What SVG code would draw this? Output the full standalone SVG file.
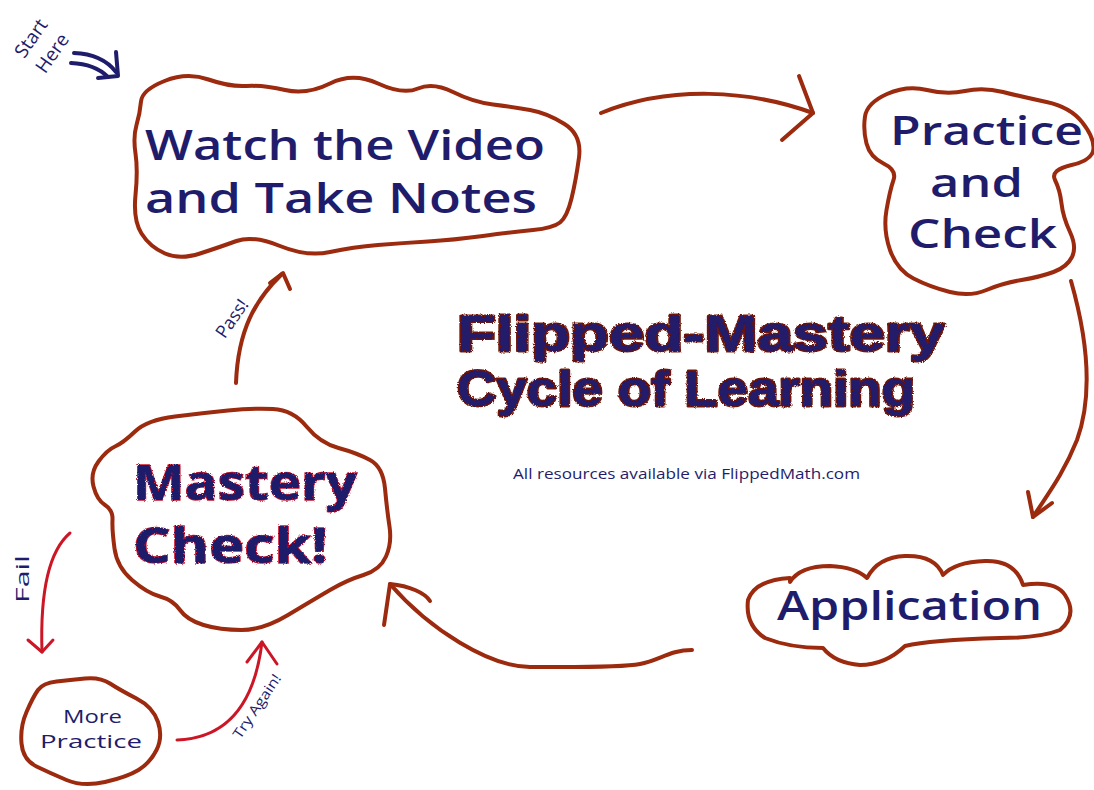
<svg xmlns="http://www.w3.org/2000/svg" width="1094" height="790" viewBox="0 0 1094 790">
<style>
.cloud{fill:#fff;stroke:#9b2a0e;stroke-width:4;stroke-linejoin:round}
.conn{fill:none;stroke:#9b2a0e;stroke-width:4;stroke-linecap:round;stroke-linejoin:round}
.red{fill:none;stroke:#cc1626;stroke-width:3;stroke-linecap:round;stroke-linejoin:round}
.navyline{fill:none;stroke:#1f1d6b;stroke-width:4;stroke-linecap:round;stroke-linejoin:round}
.t{font-family:"Open Sans","Liberation Sans",sans-serif;fill:#1f1d6b;font-weight:600}
.s{font-family:"Open Sans","Liberation Sans",sans-serif;fill:#1f1d6b;font-weight:400}
.title{font-family:"Liberation Sans",Arial,sans-serif;font-weight:700;fill:#241a6b;stroke:#6e1808;stroke-width:3;paint-order:stroke;stroke-linejoin:round}
.mc{font-family:"Open Sans","Liberation Sans",sans-serif;font-weight:700;fill:#1f1a6b;stroke:#c8142a;stroke-width:1.5;paint-order:stroke}
</style>
<defs>
<filter id="rough" x="-5%" y="-10%" width="110%" height="120%">
<feTurbulence type="fractalNoise" baseFrequency="0.9" numOctaves="2" seed="3" result="n"/>
<feDisplacementMap in="SourceGraphic" in2="n" scale="3" xChannelSelector="R" yChannelSelector="G"/>
</filter>
</defs>
<rect width="1094" height="790" fill="#fff"/>

<g id="connectors">
<path class="conn" d="M601,113 C670,85 750,90 813,113"/>
<path class="conn" d="M799,76 L813,113 L782,140"/>
<path class="conn" d="M1071,281 C1085,330 1095,390 1077,440 C1063,475 1047,495 1033,517"/>
<path class="conn" d="M1028,492 L1033,517 L1052,503"/>
<path class="conn" d="M692,650 C670,650 660,660 640,664 C620,668 560,667 530,667 C490,667 430,630 390,584"/>
<path class="conn" d="M384,625 L390,584 C410,586 425,593 430,601"/>
<path class="conn" d="M236,383 C238,330 255,300 282,274"/>
<path class="conn" d="M270,283 L283,273 L290,289"/>
<path class="red" d="M70,533 C50,550 40,590 42,652"/>
<path class="red" d="M28,640 L42,652 L53,640"/>
<path class="red" d="M177,740 C230,738 255,700 262,642"/>
<path class="red" d="M247,662 L262,642 L277,664"/>
<path class="navyline" d="M74,53 Q102,54 116,72"/>
<path class="navyline" d="M71,63 Q95,64 108,77"/>
<path class="navyline" d="M116,52 L118,76 L98,78"/>
</g>

<g id="labels">
<text class="s" transform="translate(42,46) rotate(-55)" font-size="19" text-anchor="middle"><tspan x="0" y="-7">Start</tspan><tspan x="0" y="19">Here</tspan></text>
<text class="s" transform="translate(237,322) rotate(-55)" font-size="18" text-anchor="middle">Pass!</text>
<text class="s" transform="translate(29,579) rotate(-90)" font-size="18" text-anchor="middle" textLength="48" lengthAdjust="spacingAndGlyphs">Fail</text>
<text class="s" transform="translate(261,709) rotate(-56)" font-size="14" text-anchor="middle" textLength="74" lengthAdjust="spacingAndGlyphs">Try Again!</text>
</g>

<g id="node-watch">
<path class="cloud" d="M141,101.5 Q142,90 164.5,81 Q187,72 208.5,79.5 Q230,87 246.5,86 Q263,85 285,90 Q307,95 330,83.5 Q353,72 378,83.5 Q403,95 418,88.5 Q433,82 453,92 Q473,102 493,104.5 Q513,107 530,110 Q547,113 564.5,124 Q582,135 579,157.5 Q576,180 571.5,198.5 Q567,217 560,222.5 Q553,228 533,230 Q513,232 483,236 Q453,240 428,241.5 Q403,243 378,245 Q353,247 330,252 Q307,257 280,246 Q253,235 236.5,241 Q220,247 200,253.5 Q180,260 165,253.5 Q150,247 141.5,233.5 Q133,220 135.5,195 Q138,170 135.5,153.5 Q133,137 136.5,125 Q140,113 141,101.5 Z"/>
<text class="t" font-size="41"><tspan x="145" y="160" textLength="400" lengthAdjust="spacingAndGlyphs">Watch the Video</tspan><tspan x="145" y="213" textLength="392" lengthAdjust="spacingAndGlyphs">and Take Notes</tspan></text>
</g>

<g id="node-practice">
<path class="cloud" d="M865,116.5 Q867,103 887,94 Q907,85 927,90 Q947,95 965,91 Q983,87 1003,92 Q1023,97 1046.5,102 Q1070,107 1082,122 Q1094,137 1093.5,148.5 Q1093,160 1071.5,165 Q1050,170 1055,180 Q1060,190 1061.5,203.5 Q1063,217 1070,232 Q1077,247 1072,257 Q1067,267 1053.5,272 Q1040,277 1021.5,280 Q1003,283 986.5,290 Q970,297 950,292 Q930,287 913.5,278.5 Q897,270 890,250 Q883,230 886.5,210 Q890,190 893.5,180 Q897,170 883.5,163.5 Q870,157 866.5,143.5 Q863,130 865,116.5 Z"/>
<text class="t" font-size="39"><tspan x="890" y="145" textLength="193" lengthAdjust="spacingAndGlyphs">Practice</tspan><tspan x="930" y="197" textLength="93" lengthAdjust="spacingAndGlyphs">and</tspan><tspan x="908" y="248" textLength="149" lengthAdjust="spacingAndGlyphs">Check</tspan></text>
</g>

<g id="node-application">
<path class="cloud" d="M790,582 Q800,566 830,566 Q855,567 867,578 Q878,557 905,556 Q935,555 943,575 Q955,562 985,561 Q1015,560 1023,585 Q1055,580 1065,595 Q1078,615 1060,630 Q1040,638 1000,638 Q930,640 905,646 Q885,665 860,665 Q835,663 823,648 Q790,648 765,638 Q745,625 748,600 Q755,580 790,578 Z"/>
<text class="t" x="777" y="620" font-size="40" textLength="265" lengthAdjust="spacingAndGlyphs">Application</text>
</g>

<g id="node-mastery">
<path class="cloud" d="M115,446.5 Q123,443 135,431.5 Q147,420 175,416.5 Q203,413 228,410.5 Q253,408 273,409 Q293,410 306.5,426.5 Q320,443 338.5,448 Q357,453 370,460 Q383,467 385,488.5 Q387,510 389.5,526.5 Q392,543 386,556.5 Q380,570 363.5,575 Q347,580 330,590 Q313,600 288,615 Q263,630 241.5,630 Q220,630 203.5,625 Q187,620 180,610 Q173,600 160,596.5 Q147,593 132,580 Q117,567 114.5,548.5 Q112,530 112.5,520 Q113,510 105,505 Q97,500 93.5,486.5 Q90,473 98.5,461.5 Q107,450 115,446.5 Z"/>
<text class="mc" font-size="48" filter="url(#rough)"><tspan x="133" y="500" textLength="224" lengthAdjust="spacingAndGlyphs">Mastery</tspan><tspan x="133" y="563" textLength="195" lengthAdjust="spacingAndGlyphs">Check!</tspan></text>
</g>

<g id="node-more-practice">
<path class="cloud" d="M38,690 Q43,683 56.5,681.5 Q70,680 85,678.5 Q100,677 110,683.5 Q120,690 136.5,698.5 Q153,707 158,722 Q163,737 156.5,750 Q150,763 138.5,770 Q127,777 105,782 Q83,787 66.5,780 Q50,773 36.5,766.5 Q23,760 21.5,743.5 Q20,727 26.5,712 Q33,697 38,690 Z"/>
<text class="s" font-size="19"><tspan x="63" y="723" textLength="59" lengthAdjust="spacingAndGlyphs">More</tspan><tspan x="40" y="748" textLength="102" lengthAdjust="spacingAndGlyphs">Practice</tspan></text>
</g>

<g id="title">
<text class="title" font-size="50" filter="url(#rough)"><tspan x="457" y="351" textLength="488" lengthAdjust="spacingAndGlyphs">Flipped-Mastery</tspan><tspan x="457" y="406" textLength="458" lengthAdjust="spacingAndGlyphs">Cycle of Learning</tspan></text>
<text class="s" x="513" y="479" font-size="14" textLength="347" lengthAdjust="spacingAndGlyphs">All resources available via FlippedMath.com</text>
</g>
</svg>
